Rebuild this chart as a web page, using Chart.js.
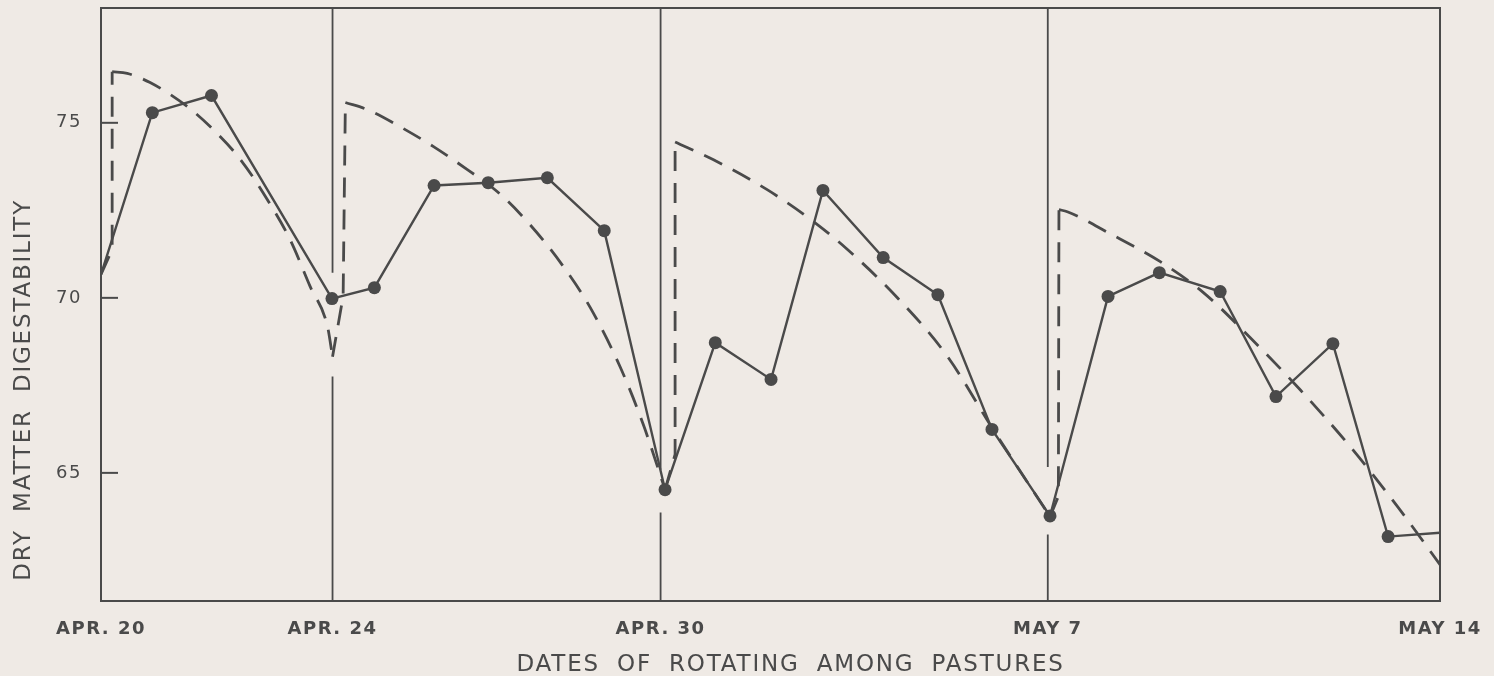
<!DOCTYPE html>
<html>
<head>
<meta charset="utf-8">
<title>Dry matter digestability during pasture rotation</title>
<script src="https://cdn.jsdelivr.net/npm/chart.js@4.4.1/dist/chart.umd.min.js"></script>
<style>
  html, body { margin: 0; padding: 0; background: #efebe6; }
  #wrap { width: 1494px; height: 676px; position: relative; }
</style>
</head>
<body>
<div id="wrap"><canvas id="chart"></canvas></div>
<script>
// Rotation dates, as days after April 20 (tick positions and vertical dividers)
const rotationDays = [0, 4.15, 10.03, 16.97, 24];
const rotationLabels = ['APR. 20', 'APR. 24', 'APR. 30', 'MAY 7', 'MAY 14'];
const yTickValues = [65, 70, 75];

// Measured dry matter digestability (solid line with dots)
const sampleDays   = [0, 0.92, 1.98, 4.14, 4.90, 5.97, 6.94, 8.00, 9.02, 10.11, 11.01, 12.01,
                      12.94, 14.02, 15.00, 15.97, 17.01, 18.05, 18.97, 20.06, 21.06, 22.08, 23.07, 24.0];
const sampleValues = [70.67, 75.29, 75.78, 69.98, 70.29, 73.21, 73.29, 73.43, 71.92, 64.52, 68.72, 67.67,
                      73.07, 71.15, 70.09, 66.24, 63.77, 70.04, 70.72, 70.18, 67.18, 68.69, 63.18, 63.29];

// Expected decline within each pasture (dashed curves)
const cycle1Days   = [0.20, 0.47, 0.88, 1.55, 2.01, 2.50, 2.98, 3.39, 3.75, 4.06, 4.15];
const cycle1Values = [76.46, 76.41, 76.15, 75.46, 74.81, 73.95, 72.81, 71.66, 70.32, 69.18, 68.32];
const cycle2Days   = [4.38, 4.77, 5.36, 5.96, 6.56, 7.10, 7.69, 8.29, 8.77, 9.31, 9.72, 10.11];
const cycle2Values = [75.58, 75.38, 74.89, 74.32, 73.67, 73.04, 72.09, 70.89, 69.72, 68.01, 66.38, 64.52];
const cycle3Days   = [10.29, 10.97, 11.94, 12.77, 13.38, 14.27, 15.17, 15.97, 17.01];
const cycle3Values = [74.45, 73.95, 73.09, 72.18, 71.38, 70.01, 68.33, 66.29, 63.75];
const cycle4Days   = [17.17, 17.32, 18.09, 18.98, 19.76, 20.60, 21.49, 22.39, 23.28, 24.0];
const cycle4Values = [72.52, 72.46, 71.83, 71.04, 70.15, 68.86, 67.38, 65.75, 63.95, 62.38];

// Jumps of the expected value when stock move to a fresh pasture (null = break)
const jumpDays   = [0, 0.20, 0.20, null, 4.15, 4.34, 4.38, null, 10.11, 10.29, 10.29, null, 17.01, 17.16, 17.17];
const jumpValues = [70.67, 71.38, 76.46, null, 68.32, 70.05, 75.58, null, 64.52, 65.53, 74.45, null, 63.75, 64.33, 72.52];

const xTitle = 'DATES OF ROTATING AMONG PASTURES';
const yTitle = 'DRY MATTER DIGESTABILITY';

const INK = '#4a4a4a';
const PAPER = '#efeae5';

const toPoints = (xs, ys) => xs.map((x, i) => ({ x: x === null ? NaN : x, y: ys[i] }));

const dashedCurve = (xs, ys) => ({
  data: toPoints(xs, ys),
  borderColor: INK,
  borderWidth: 2.8,
  borderDash: [20, 12],
  pointRadius: 0,
  fill: false,
  cubicInterpolationMode: 'monotone',
  order: 2
});

// Frame, inward y ticks, rotation dividers and axis titles
const drafting = {
  id: 'drafting',
  beforeDraw(chart) {
    const { ctx, width, height } = chart;
    ctx.save();
    ctx.fillStyle = PAPER;
    ctx.fillRect(0, 0, width, height);
    ctx.restore();
    ctx.letterSpacing = '1.5px';
  },
  beforeDatasetsDraw(chart, args, opts) {
    const { ctx, chartArea: a, scales: { x, y } } = chart;
    ctx.save();
    ctx.strokeStyle = INK;
    ctx.lineWidth = 2;
    ctx.strokeRect(a.left, a.top, a.right - a.left, a.bottom - a.top);

    // short ticks pointing into the plot
    yTickValues.forEach(v => {
      const py = y.getPixelForValue(v);
      ctx.beginPath();
      ctx.moveTo(a.left, py);
      ctx.lineTo(a.left + opts.tickLength, py);
      ctx.stroke();
    });

    // dividers at each rotation date, broken where the curves pass
    ctx.lineWidth = 1.8;
    rotationDays.slice(1, -1).forEach((d, i) => {
      const px = x.getPixelForValue(d);
      const [gTop, gBottom] = opts.gaps[i];
      ctx.beginPath();
      ctx.moveTo(px, a.top);
      ctx.lineTo(px, y.getPixelForValue(gTop));
      ctx.moveTo(px, y.getPixelForValue(gBottom));
      ctx.lineTo(px, a.bottom);
      ctx.stroke();
    });
    ctx.restore();
  },
  afterDraw(chart) {
    const { ctx, chartArea: a } = chart;
    ctx.save();
    ctx.fillStyle = INK;
    ctx.font = '23px "DejaVu Sans"';
    ctx.letterSpacing = '1.8px';
    ctx.wordSpacing = '8px';
    ctx.textAlign = 'center';
    ctx.textBaseline = 'alphabetic';
    ctx.fillText(xTitle, a.left + (a.right - a.left) * 0.515, a.bottom + 70);

    ctx.translate(30, a.top + (a.bottom - a.top) * 0.644);
    ctx.rotate(-Math.PI / 2);
    ctx.fillText(yTitle, 0, 0);
    ctx.restore();
    ctx.letterSpacing = '0px';
  }
};

new Chart(document.getElementById('chart'), {
  type: 'line',
  data: {
    datasets: [
      {
        data: toPoints(sampleDays, sampleValues),
        borderColor: INK,
        borderWidth: 2.4,
        tension: 0,
        pointRadius: c => (c.dataIndex === 0 || c.dataIndex === sampleDays.length - 1) ? 0 : 6.5,
        pointBackgroundColor: INK,
        pointBorderWidth: 0,
        order: 1
      },
      dashedCurve(cycle1Days, cycle1Values),
      dashedCurve(cycle2Days, cycle2Values),
      dashedCurve(cycle3Days, cycle3Values),
      dashedCurve(cycle4Days, cycle4Values),
      {
        data: toPoints(jumpDays, jumpValues),
        borderColor: INK,
        borderWidth: 2.8,
        borderDash: [20, 12],
        pointRadius: 0,
        tension: 0,
        spanGaps: false,
        order: 2
      }
    ]
  },
  options: {
    responsive: true,
    maintainAspectRatio: false,
    animation: false,
    events: [],
    layout: { padding: { top: 8, right: 54, bottom: 0, left: 0 } },
    plugins: {
      legend: { display: false },
      tooltip: { enabled: false },
      drafting: {
        tickLength: 17,
        gaps: [[70.72, 67.75], [65.09, 63.87], [65.17, 63.24]]
      }
    },
    scales: {
      x: {
        type: 'linear',
        min: 0,
        max: 24,
        border: { display: false },
        grid: { display: false, drawTicks: false, tickLength: 0 },
        afterBuildTicks: s => { s.ticks = rotationDays.map(v => ({ value: v })); },
        afterFit: s => { s.height = 75; s.paddingLeft = 0; s.paddingRight = 0; },
        ticks: {
          autoSkip: false,
          maxRotation: 0,
          padding: 18,
          color: INK,
          font: { family: 'DejaVu Sans', size: 18, weight: 'bold' },
          callback: (v, i) => rotationLabels[i]
        }
      },
      y: {
        type: 'linear',
        min: 61.34,
        max: 78.28,
        border: { display: false },
        grid: { display: false, drawTicks: false, tickLength: 0 },
        afterBuildTicks: s => { s.ticks = yTickValues.map(v => ({ value: v })); },
        afterFit: s => { s.width = 101; s.paddingTop = 0; s.paddingBottom = 0; },
        ticks: {
          padding: 19,
          color: INK,
          font: { family: 'DejaVu Sans', size: 18 }
        }
      }
    }
  },
  plugins: [drafting]
});
</script>
</body>
</html>
